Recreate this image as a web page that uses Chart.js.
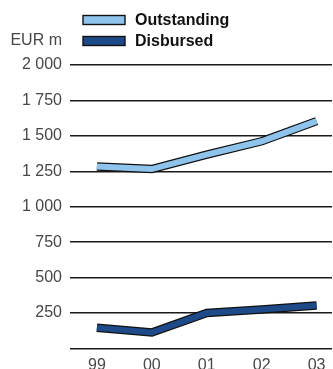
<!DOCTYPE html>
<html>
<head>
<meta charset="utf-8">
<script src="https://cdn.jsdelivr.net/npm/chart.js@4/dist/chart.umd.min.js"></script>
<style>
html,body{margin:0;padding:0;overflow:hidden;background:#fff;width:333px;height:369px;}
#wrap{position:relative;width:333px;height:385px;}
</style>
</head>
<body>
<div id="wrap"><canvas id="c" width="333" height="385"></canvas></div>
<script>
const categories = ['99', '00', '01', '02', '03'];
const outstanding = [1284, 1266, 1368, 1462, 1604];
const disbursed = [147, 113, 250, 275, 303];
const yTicks = [0, 250, 500, 750, 1000, 1250, 1500, 1750, 2000];
const unitLabel = 'EUR m';
const seriesNames = ['Outstanding', 'Disbursed'];
const seriesColors = ['#8EC3EC', '#1E4A8A'];

function pts(arr){ return arr.map((v,i)=>({x:i,y:v})); }
function fmt(v){ return v.toLocaleString('en-US').replace(/,/g,' '); }

const FONT = "'Liberation Sans', Arial, Helvetica, sans-serif";
const TICK_COLOR = '#474747';

const legendPlugin = {
  id: 'customLegend',
  afterDraw(chart){
    const ctx = chart.ctx;
    ctx.save();
    const rows = [20, 41];
    seriesNames.forEach((name, i) => {
      const y = rows[i];
      ctx.fillStyle = seriesColors[i];
      ctx.fillRect(83, y - 4.5, 42, 9);
      ctx.strokeStyle = '#111';
      ctx.lineWidth = 1.4;
      ctx.strokeRect(83, y - 4.5, 42, 9);
      ctx.fillStyle = '#111';
      ctx.font = 'bold 16px ' + FONT;
      ctx.textBaseline = 'middle';
      ctx.textAlign = 'left';
      ctx.fillText(name, 135, y + 1);
    });
    ctx.font = '16px ' + FONT;
    ctx.fillStyle = TICK_COLOR;
    ctx.textAlign = 'right';
    ctx.textBaseline = 'middle';
    ctx.fillText(unitLabel, 62, 41);
    ctx.restore();
  }
};

const lineCommon = {
  fill: false, pointRadius: 0, tension: 0,
  borderCapStyle: 'butt', borderJoinStyle: 'miter'
};

new Chart(document.getElementById('c'), {
  type: 'line',
  data: {
    datasets: [
      Object.assign({label: seriesNames[0], data: pts(outstanding), borderColor: seriesColors[0], borderWidth: 6, order: 1}, lineCommon),
      Object.assign({label: seriesNames[0] + ' outline', data: pts(outstanding), borderColor: '#111', borderWidth: 8.5, order: 2}, lineCommon),
      Object.assign({label: seriesNames[1], data: pts(disbursed), borderColor: seriesColors[1], borderWidth: 6, order: 1}, lineCommon),
      Object.assign({label: seriesNames[1] + ' outline', data: pts(disbursed), borderColor: '#111', borderWidth: 8.5, order: 2}, lineCommon)
    ]
  },
  options: {
    responsive: false,
    animation: false,
    layout: { padding: { top: 65, left: 0, right: 0, bottom: 0 } },
    plugins: { legend: { display: false }, tooltip: { enabled: false } },
    scales: {
      x: {
        type: 'linear',
        min: -0.49, max: 4.28,
        grid: { display: false, drawTicks: false },
        border: { display: false },
        afterBuildTicks(scale){ scale.ticks = categories.map((_, i) => ({value: i})); },
        afterFit(scale){ scale.height = 385 - 348.5; },
        ticks: {
          padding: 7.5,
          autoSkip: false,
          maxRotation: 0,
          color: TICK_COLOR,
          font: { family: FONT, size: 16 },
          callback: (v) => categories[v]
        }
      },
      y: {
        min: 0, max: 2000,
        grid: { color: '#1a1a1a', lineWidth: 1.4, drawTicks: false },
        border: { display: false },
        afterBuildTicks(scale){ scale.ticks = yTicks.map(v => ({value: v})); },
        afterFit(scale){ scale.width = 70; },
        ticks: {
          padding: 8,
          color: TICK_COLOR,
          font: { family: FONT, size: 16 },
          callback: (v) => v === 0 ? '' : fmt(v)
        }
      }
    }
  },
  plugins: [legendPlugin]
});
</script>
</body>
</html>
